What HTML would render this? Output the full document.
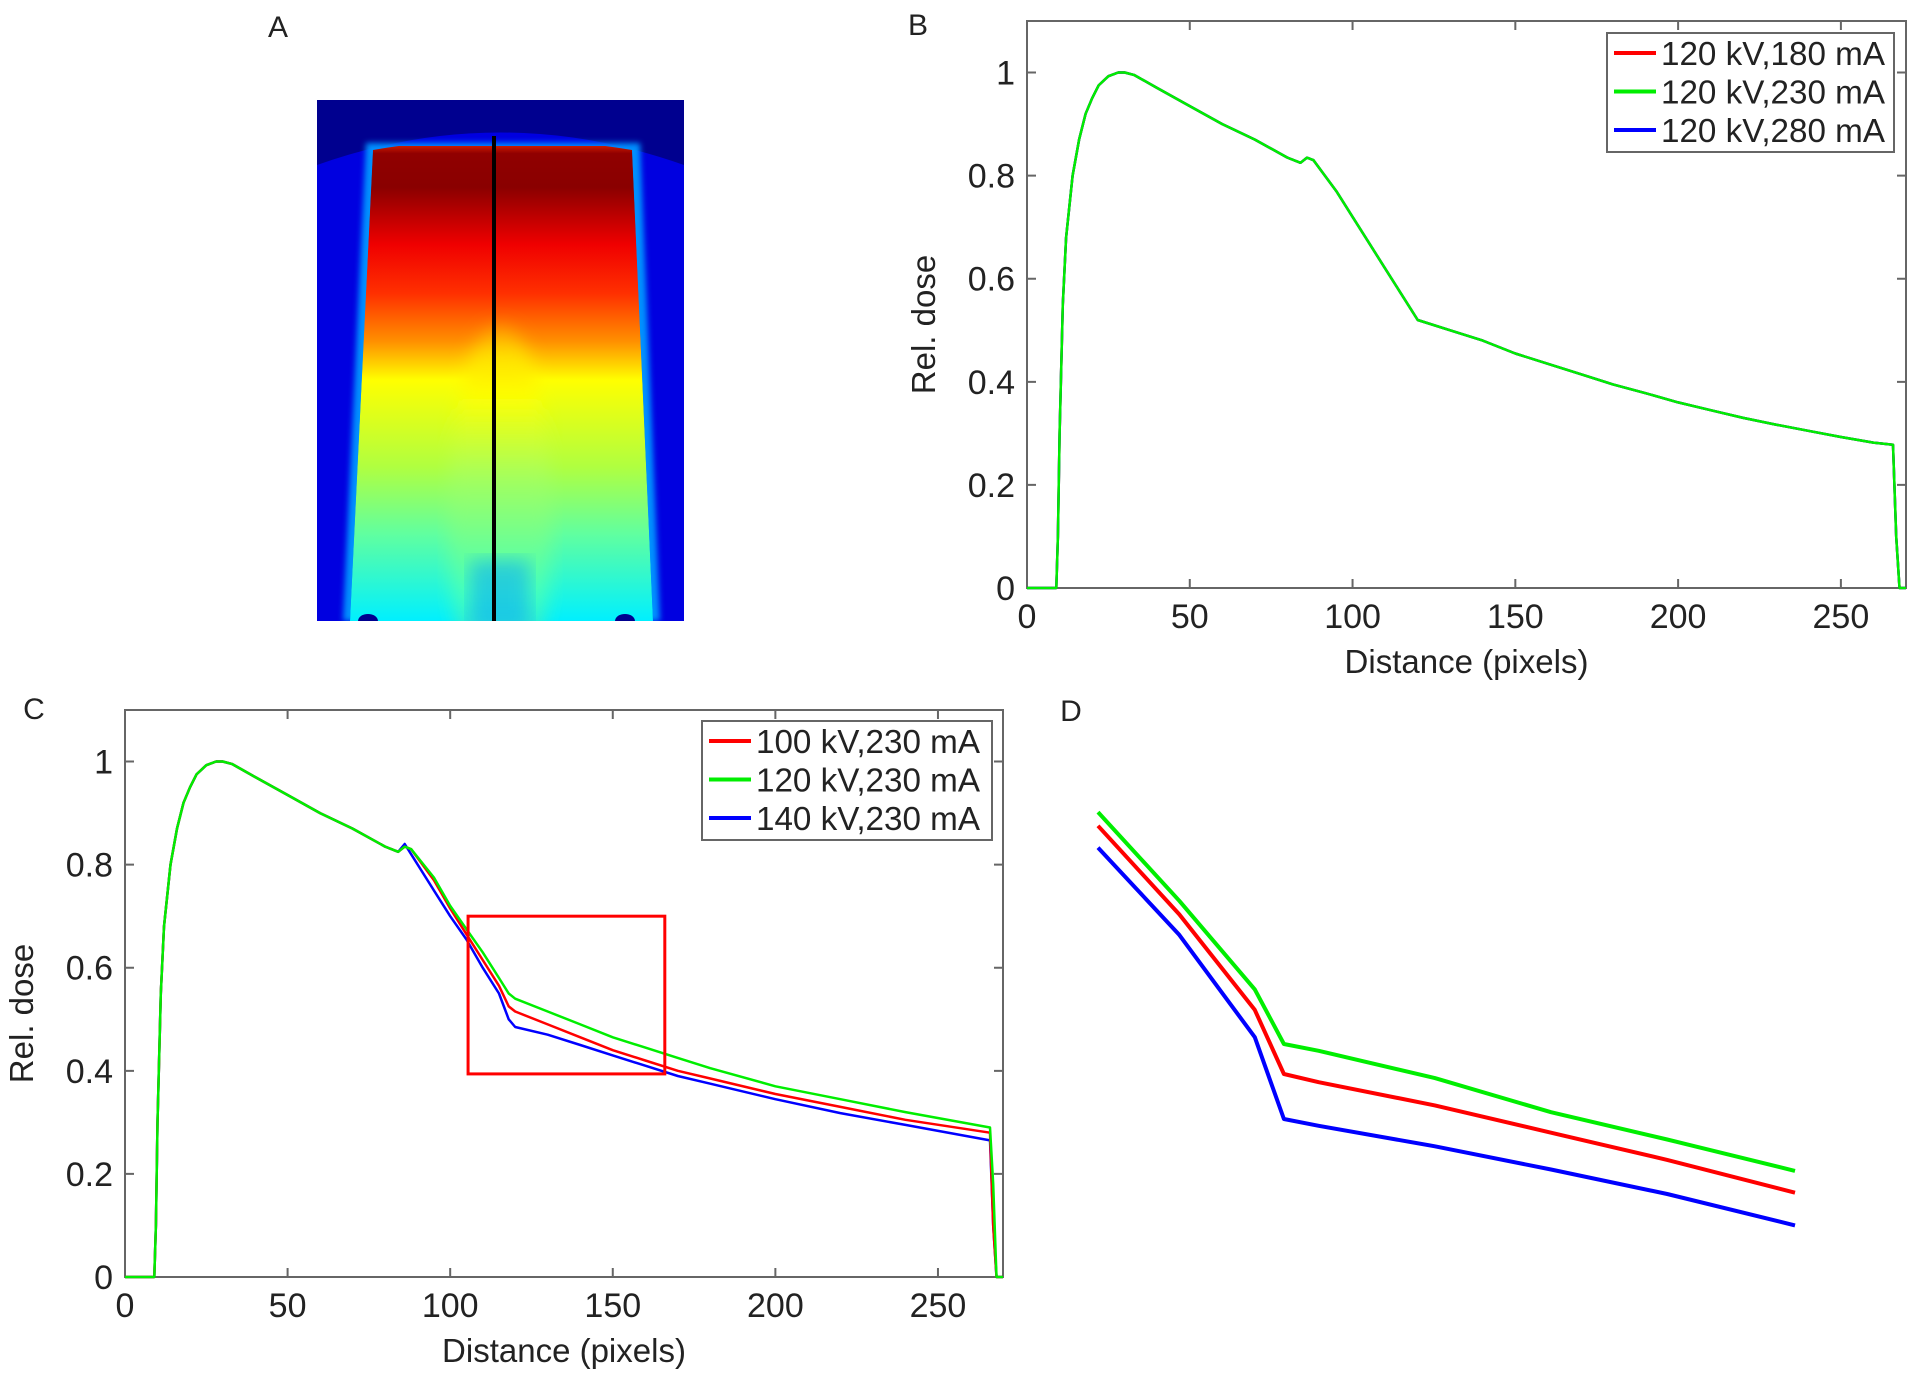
<!DOCTYPE html>
<html><head><meta charset="utf-8">
<style>
html,body{margin:0;padding:0;background:#fff;}
svg{display:block;font-family:"Liberation Sans",Arial,sans-serif;}
</style></head>
<body>
<svg id="fig" width="1920" height="1380" viewBox="0 0 1920 1380" xmlns="http://www.w3.org/2000/svg">
<defs>
<linearGradient id="fieldGrad" x1="0" y1="0" x2="0" y2="1">
<stop offset="0" stop-color="#ff3000"/>
<stop offset="0.03" stop-color="#900000"/>
<stop offset="0.1" stop-color="#8a0000"/>
<stop offset="0.22" stop-color="#f00000"/>
<stop offset="0.32" stop-color="#ff3000"/>
<stop offset="0.42" stop-color="#ff9000"/>
<stop offset="0.5" stop-color="#ffff00"/>
<stop offset="0.68" stop-color="#b0ff40"/>
<stop offset="0.82" stop-color="#60ffa0"/>
<stop offset="1" stop-color="#00f0ff"/>
</linearGradient>
<linearGradient id="bumpGrad" x1="0" y1="0" x2="0" y2="1">
<stop offset="0" stop-color="#ffa000" stop-opacity="0.6"/>
<stop offset="0.08" stop-color="#ffe000"/>
<stop offset="0.18" stop-color="#ffff00"/>
<stop offset="0.4" stop-color="#a0ff60"/>
<stop offset="0.7" stop-color="#40ffc0"/>
<stop offset="1" stop-color="#00b0ff"/>
</linearGradient>
<filter id="blur8"><feGaussianBlur stdDeviation="9"/></filter>
<filter id="blur3"><feGaussianBlur stdDeviation="3"/></filter>
<clipPath id="clipA"><rect x="317" y="100" width="367" height="521"/></clipPath>
<clipPath id="clipField"><polygon points="373,146 632,146 653,621 350,621"/></clipPath>
</defs>

<g clip-path="url(#clipA)">
<rect x="317" y="100" width="367" height="521" fill="#00008f"/>
<path d="M317,165 Q500,100 684,165 L684,621 L317,621 Z" fill="#0000e0"/>
<polygon points="366,143 640,143 660,621 343,621" fill="#0090ff" filter="url(#blur3)"/>
<g clip-path="url(#clipField)">
<path d="M373,150 Q500,128 632,150 L653,621 L350,621 Z" fill="url(#fieldGrad)"/>
<ellipse cx="500" cy="520" rx="52" ry="195" fill="url(#bumpGrad)" filter="url(#blur8)"/>
<rect x="470" y="560" width="60" height="70" fill="#00a0ff" opacity="0.5" filter="url(#blur8)"/>
</g>
<ellipse cx="368" cy="621" rx="10" ry="7" fill="#00008f"/>
<ellipse cx="625" cy="621" rx="10" ry="7" fill="#00008f"/>
<line x1="494" y1="136" x2="494" y2="621" stroke="#000" stroke-width="4"/>
</g>

<text x="278" y="37" font-size="30" fill="#222" text-anchor="middle">A</text>
<text x="918" y="35" font-size="30" fill="#222" text-anchor="middle">B</text>
<text x="34" y="719" font-size="30" fill="#222" text-anchor="middle">C</text>
<text x="1071" y="721" font-size="30" fill="#222" text-anchor="middle">D</text>

<g id="panelB"></g>
<g id="panelC"></g>
<g id="panelD"></g>
</svg>

<script>
const xTicks = [0, 50, 100, 150, 200, 250];
const yTicks = [0, 0.2, 0.4, 0.6, 0.8, 1];
const yTickLabels = ["0", "0.2", "0.4", "0.6", "0.8", "1"];

const bDistance = [0,9,9.5,10,11,12,14,16,18,20,22,25,28,30,33,40,50,60,70,80,84,86,88,95,100,105,110,115,118,120,130,140,150,160,170,180,190,200,210,220,230,240,250,260,266,267,268,270];
const bDose180 = [0,0,0.1,0.3,0.55,0.68,0.8,0.87,0.92,0.95,0.975,0.993,1.0,1.0,0.995,0.97,0.935,0.9,0.87,0.835,0.825,0.835,0.83,0.77,0.72,0.67,0.62,0.57,0.54,0.52,0.5,0.48,0.455,0.435,0.415,0.395,0.378,0.36,0.345,0.33,0.317,0.305,0.293,0.282,0.278,0.1,0,0];
const bDose230 = [0,0,0.1,0.3,0.55,0.68,0.8,0.87,0.92,0.95,0.975,0.993,1.0,1.0,0.995,0.97,0.935,0.9,0.87,0.835,0.825,0.835,0.83,0.77,0.72,0.67,0.62,0.57,0.54,0.52,0.5,0.48,0.455,0.435,0.415,0.395,0.378,0.36,0.345,0.33,0.317,0.305,0.293,0.282,0.278,0.1,0,0];
const bDose280 = [0,0,0.1,0.3,0.55,0.68,0.8,0.87,0.92,0.95,0.975,0.993,1.0,1.0,0.995,0.97,0.935,0.9,0.87,0.835,0.825,0.835,0.83,0.77,0.72,0.67,0.62,0.57,0.54,0.52,0.5,0.48,0.455,0.435,0.415,0.395,0.378,0.36,0.345,0.33,0.317,0.305,0.293,0.282,0.278,0.1,0,0];
const bLabels = ["120 kV,180 mA", "120 kV,230 mA", "120 kV,280 mA"];

const cDistance = [0,9,9.5,10,11,12,14,16,18,20,22,25,28,30,33,40,50,60,70,80,84,86,88,95,100,105,110,115,118,120,130,140,150,160,170,180,200,220,240,266,267,268,270];
const cDose100 = [0,0,0.1,0.3,0.55,0.68,0.8,0.87,0.92,0.95,0.975,0.993,1.0,1.0,0.995,0.97,0.935,0.9,0.87,0.835,0.825,0.835,0.83,0.77,0.715,0.665,0.615,0.565,0.525,0.515,0.49,0.465,0.44,0.42,0.40,0.385,0.355,0.33,0.305,0.28,0.1,0,0];
const cDose120 = [0,0,0.1,0.3,0.55,0.68,0.8,0.87,0.92,0.95,0.975,0.993,1.0,1.0,0.995,0.97,0.935,0.9,0.87,0.835,0.825,0.835,0.83,0.775,0.72,0.675,0.63,0.58,0.55,0.54,0.515,0.49,0.465,0.445,0.425,0.405,0.37,0.345,0.32,0.29,0.18,0,0];
const cDose140 = [0,0,0.1,0.3,0.55,0.68,0.8,0.87,0.92,0.95,0.975,0.993,1.0,1.0,0.995,0.97,0.935,0.9,0.87,0.835,0.825,0.84,0.82,0.75,0.70,0.655,0.60,0.55,0.50,0.485,0.47,0.45,0.43,0.41,0.39,0.375,0.345,0.318,0.295,0.265,0.1,0,0];
const cLabels = ["100 kV,230 mA", "120 kV,230 mA", "140 kV,230 mA"];
const zoomBox = {x0:105.5, x1:166, y0:0.394, y1:0.70};

const dDistance = [106,113,119.5,122,125,135,145,155,166];
const dDose100 = [0.70,0.635,0.565,0.518,0.512,0.495,0.475,0.455,0.431];
const dDose120 = [0.71,0.645,0.58,0.54,0.535,0.515,0.49,0.47,0.447];
const dDose140 = [0.684,0.62,0.545,0.485,0.48,0.465,0.448,0.43,0.407];

const NS = "http://www.w3.org/2000/svg";
const COLORS = ["#ff0000", "#00ee00", "#0000ff"];
function mk(tag, attrs, parent) {
  const e = document.createElementNS(NS, tag);
  for (const k in attrs) e.setAttribute(k, attrs[k]);
  parent.appendChild(e);
  return e;
}

function drawChart(g, L, R, T, B0, series, labels, leg, box) {
  const xs = v => L + (v / 270) * (R - L);
  const ys = v => B0 - (v / 1.1) * (B0 - T);
  const ax = mk("rect", {x:L, y:T, width:R-L, height:B0-T, fill:"none", stroke:"#666", "stroke-width":2}, g);
  
  
  xTicks.forEach(t => {
    const x = xs(t);
    const tk = mk("path", {d:`M${x},${B0}v-9M${x},${T}v9`, stroke:"#666", "stroke-width":2}, g);
    
    
    const lb = mk("text", {x:x, y:B0+40, "font-size":34, "text-anchor":"middle", fill:"#222"}, g);
    
    
    lb.textContent = String(t);
  });
  yTicks.forEach((t, i) => {
    const y = ys(t);
    const tk = mk("path", {d:`M${L},${y}h9M${R},${y}h-9`, stroke:"#666", "stroke-width":2}, g);
    
    
    const lb = mk("text", {x:L-12, y:y+12, "font-size":34, "text-anchor":"end", fill:"#222"}, g);
    
    
    lb.textContent = yTickLabels[i];
  });
  const xt = mk("text", {x:(L+R)/2, y:B0+85, "font-size":33, "text-anchor":"middle", fill:"#222"}, g);
  
  
  xt.textContent = "Distance (pixels)";
  const ytx = L - 92, yty = (T + B0) / 2 + 20;
  const yt = mk("text", {x:ytx, y:yty, "font-size":33, "text-anchor":"middle", fill:"#222", transform:`rotate(-90 ${ytx} ${yty})`}, g);
  
  
  yt.textContent = "Rel. dose";
  series.forEach((s, i) => {
    const d = s.x.map((v, j) => (j ? "L" : "M") + xs(v).toFixed(1) + "," + ys(s.y[j]).toFixed(1)).join("");
    const p = mk("path", {d:d, fill:"none", stroke:s.c, "stroke-width":2.5, "stroke-linejoin":"round"}, g);
    
    
  });
  if (box) {
    const r = mk("rect", {x:xs(box.x0), y:ys(box.y1), width:xs(box.x1)-xs(box.x0), height:ys(box.y0)-ys(box.y1), fill:"none", stroke:"#ff0000", "stroke-width":3}, g);
    
    
  }
  const lg = mk("g", {}, g);
  
  
  mk("rect", {x:leg.x, y:leg.y, width:leg.w, height:leg.h, fill:"#fff", stroke:"#666", "stroke-width":2}, lg);
  labels.forEach((t, i) => {
    const yy = leg.y + 20 + i * 38.5;
    const ln = mk("line", {x1:leg.x+7, x2:leg.x+49, y1:yy, y2:yy, stroke:COLORS[i], "stroke-width":4}, lg);
    
    
    const tx = mk("text", {x:leg.x+54, y:yy+12, "font-size":33, fill:"#222", textLength:leg.tl, lengthAdjust:"spacingAndGlyphs"}, lg);
    
    
    tx.textContent = t;
  });
}

drawChart(document.getElementById("panelB"), 1027, 1906, 21, 588,
  [{x:bDistance, y:bDose180, c:COLORS[0], n:"180ma"},
   {x:bDistance, y:bDose280, c:COLORS[2], n:"280ma"},
   {x:bDistance, y:bDose230, c:COLORS[1], n:"230ma"}],
  bLabels, {x:1607, y:33, w:287, h:119, tl:224}, null);

drawChart(document.getElementById("panelC"), 125, 1003, 710, 1277,
  [{x:cDistance, y:cDose140, c:COLORS[2], n:"140kv"},
   {x:cDistance, y:cDose100, c:COLORS[0], n:"100kv"},
   {x:cDistance, y:cDose120, c:COLORS[1], n:"120kv"}],
  cLabels, {x:702, y:721, w:290, h:119, tl:224}, zoomBox);

(function(){
  const g = document.getElementById("panelD");
  const xs = v => 1098 + (v - 106) / 60 * 697;
  const ys = v => 1044 - (v - 0.54) * 1364;
  [[dDose120, COLORS[1], "120kv"], [dDose100, COLORS[0], "100kv"], [dDose140, COLORS[2], "140kv"]].forEach(s => {
    const d = dDistance.map((v, j) => (j ? "L" : "M") + xs(v).toFixed(1) + "," + ys(s[0][j]).toFixed(1)).join("");
    const p = mk("path", {d:d, fill:"none", stroke:s[1], "stroke-width":4, "stroke-linejoin":"round"}, g);
    
    
  });
})();
</script>
</body></html>
